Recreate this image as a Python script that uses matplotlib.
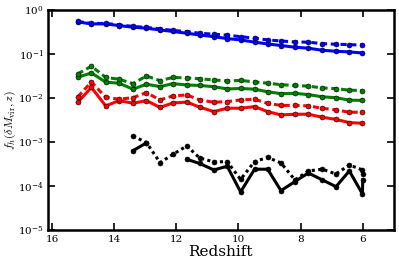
import numpy as np
import matplotlib
matplotlib.use("Agg")
import matplotlib.pyplot as plt

plt.rcParams['font.family'] = 'DejaVu Serif'
plt.rcParams['mathtext.fontset'] = 'cm'

# Redshift of each snapshot
z = [15.17, 14.73, 14.27, 13.84, 13.39, 12.96, 12.52, 12.11, 11.66, 11.25, 10.79,
     10.36, 9.93, 9.48, 9.06, 8.63, 8.18, 7.75, 7.30, 6.86, 6.43, 6.01]
z_black = [13.39, 12.96, 12.52, 12.11, 11.66, 11.25, 10.79, 10.36, 9.93, 9.48,
           9.06, 8.63, 8.18, 7.75, 7.30, 6.86, 6.43, 6.01, 6.00]

blue_solid = [0.533, 0.481, 0.481, 0.440, 0.405, 0.384, 0.351, 0.324, 0.295, 0.270, 0.247,
              0.223, 0.208, 0.185, 0.169, 0.155, 0.142, 0.135, 0.121, 0.115, 0.111, 0.105]
blue_dash = [0.548, 0.493, 0.493, 0.456, 0.422, 0.400, 0.370, 0.342, 0.321, 0.295, 0.281,
             0.266, 0.247, 0.227, 0.208, 0.197, 0.187, 0.185, 0.171, 0.166, 0.163, 0.158]

green_solid = [0.0295, 0.0370, 0.0229, 0.0216, 0.0158, 0.0205, 0.0181, 0.0211, 0.0197, 0.0192,
               0.0180, 0.0160, 0.0164, 0.0158, 0.0138, 0.0125, 0.0127, 0.0119, 0.0106, 0.0101,
               0.0089, 0.0088]
green_dash = [0.0351, 0.0525, 0.0292, 0.0266, 0.0211, 0.0316, 0.0247, 0.0292, 0.0285, 0.0273,
              0.0256, 0.0243, 0.0250, 0.0231, 0.0216, 0.0200, 0.0192, 0.0185, 0.0169, 0.0162,
              0.0150, 0.0147]

red_solid = [0.00798, 0.0173, 0.00658, 0.00869, 0.00758, 0.00869, 0.00608, 0.00769, 0.00803,
             0.00618, 0.00489, 0.00583, 0.00583, 0.00634, 0.00489, 0.00411, 0.00426, 0.00426,
             0.00364, 0.00325, 0.00275, 0.00266]
red_dash = [0.01054, 0.0231, 0.01037, 0.00934, 0.01016, 0.01319, 0.00901, 0.01110, 0.01170,
            0.00901, 0.00798, 0.00824, 0.00901, 0.00934, 0.00750, 0.00676, 0.00676, 0.00658,
            0.00583, 0.00533, 0.00473, 0.00473]

black_solid = [6.34e-4, 9.49e-4, np.nan, np.nan, 4.04e-4, 3.24e-4, 2.31e-4, 2.80e-4, 7.31e-5,
               2.40e-4, 2.40e-4, 7.82e-5, 1.26e-4, 1.97e-4, 1.37e-4, 9.64e-5, 2.19e-4,
               6.58e-5, 1.37e-4]
black_dash = [1.37e-3, 9.64e-4, 3.39e-4, 5.20e-4, 8.11e-4, 4.33e-4, 3.51e-4, 3.57e-4, 1.41e-4,
              3.57e-4, 4.45e-4, 3.33e-4, 1.37e-4, 2.19e-4, 2.40e-4, 1.87e-4, 3.00e-4,
              2.31e-4, 1.82e-4]

fig = plt.figure(figsize=(3.99, 2.61), dpi=100)
ax = fig.add_axes([0.12, 0.119, 0.867, 0.843])

lw = 2.2
mk = dict(marker='o', ms=3.6, mec='k', mew=0.4)
for col, ys, yd, zz in [('b', blue_solid, blue_dash, z),
                        ('g', green_solid, green_dash, z),
                        ('r', red_solid, red_dash, z),
                        ('k', black_solid, black_dash, z_black)]:
    ax.plot(zz, ys, color=col, lw=lw, mfc=col, **mk)
    dash = (1.0, 1.1) if col == 'k' else (2.0, 1.2)
    ax.plot(zz, yd, color=col, lw=lw, mfc=col, dashes=dash, **mk)

ax.set_yscale('log')
ax.set_ylim(1e-5, 1)
ax.set_xlim(16.13, 5.0)
ax.set_xticks([16, 14, 12, 10, 8, 6])
ax.set_yticks([1e-5, 1e-4, 1e-3, 1e-2, 1e-1, 1])
ax.minorticks_off()
ax.tick_params(direction='in', top=True, right=True, length=5, width=1.2, labelsize=7.5)
ax.tick_params(axis='y', labelsize=7.5, pad=3)
for s in ax.spines.values():
    s.set_linewidth(1.8)

ax.set_xlabel('Redshift', fontsize=11, labelpad=1)
ax.set_ylabel(r'$f_h(\delta M_{\rm vir}, z)$', fontsize=8.5)
ax.yaxis.set_label_coords(-0.086, 0.5)

fig.savefig('out.png', dpi=100)
